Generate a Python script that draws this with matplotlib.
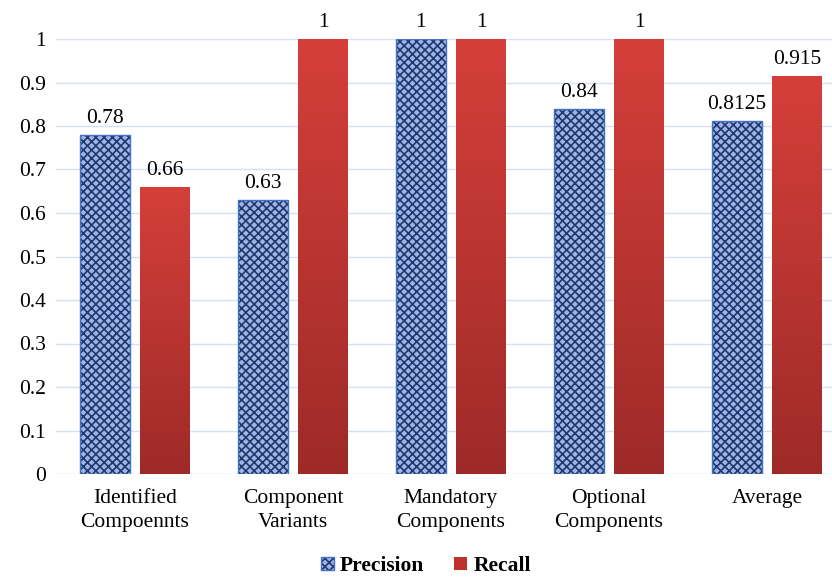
import matplotlib.pyplot as plt
import numpy as np
from matplotlib.colors import LinearSegmentedColormap

categories = ['Identified\nCompoennts', 'Component\nVariants', 'Mandatory\nComponents',
              'Optional\nComponents', 'Average']
precision = [0.78, 0.63, 1, 0.84, 0.8125]
recall = [0.66, 1, 1, 1, 0.915]
precision_labels = ['0.78', '0.63', '1', '0.84', '0.8125']
recall_labels = ['0.66', '1', '1', '1', '0.915']

plt.rcParams['font.family'] = ['Liberation Serif', 'DejaVu Serif']
plt.rcParams['hatch.linewidth'] = 1.2

fig = plt.figure(figsize=(8.32, 5.77), dpi=100)
# axes run slightly past the right edge, like the original
ax = fig.add_axes([56 / 832, 1 - 474 / 577, 790 / 832, 435 / 577])

x = np.arange(len(categories))
w = 0.316
off = 0.19
fs = 15.5

pbars = ax.bar(x - off, precision, w, color='#9DB5E0', edgecolor='#4472C4',
               hatch='xxxx', linewidth=1.0, label='Precision', zorder=3)
for b in pbars:
    b._hatch_color = (0.12, 0.22, 0.45, 1.0)

rbars = ax.bar(x + off, recall, w, color='#C0302C', edgecolor='none',
               label='Recall', zorder=3)

# vertical gradient on recall bars
grad = np.linspace(0, 1, 256).reshape(-1, 1)
cmap = LinearSegmentedColormap.from_list('red', ['#9E2A28', '#D53F3A'])
for b in rbars:
    x0, y0 = b.get_x(), b.get_y()
    im = ax.imshow(grad, extent=[x0, x0 + b.get_width(), y0, y0 + b.get_height()],
                   origin='lower', cmap=cmap, aspect='auto', zorder=3.5)
    im.set_clip_path(b)

for i in range(len(categories)):
    ax.text(x[i] - off, precision[i] + 0.015, precision_labels[i], ha='center',
            va='bottom', fontsize=fs)
    ax.text(x[i] + off, recall[i] + 0.015, recall_labels[i], ha='center',
            va='bottom', fontsize=fs)

ax.set_xlim(-0.5, 4.5)
ax.set_ylim(0, 1)
ax.set_yticks(np.arange(0, 1.01, 0.1))
ax.set_yticklabels(['0', '0.1', '0.2', '0.3', '0.4', '0.5', '0.6', '0.7', '0.8', '0.9', '1'])
ax.set_xticks(x)
ax.set_xticklabels(categories, fontsize=fs, linespacing=1.35)
ax.tick_params(axis='y', labelsize=fs, length=0, pad=7)
ax.tick_params(axis='x', length=0, pad=11)
ax.grid(axis='y', color='#D6E0F0', linewidth=1.0, zorder=0)
for s in ax.spines.values():
    s.set_visible(False)
ax.set_axisbelow(True)

leg = fig.legend(handles=[pbars, rbars], labels=['Precision', 'Recall'], loc='center',
                 bbox_to_anchor=(0.512, 1 - 566 / 577), ncol=2, frameon=False,
                 prop={'weight': 'bold', 'size': fs}, handlelength=0.6,
                 handleheight=0.6, handletextpad=0.3, columnspacing=1.4)

fig.savefig('out.png', dpi=100)
